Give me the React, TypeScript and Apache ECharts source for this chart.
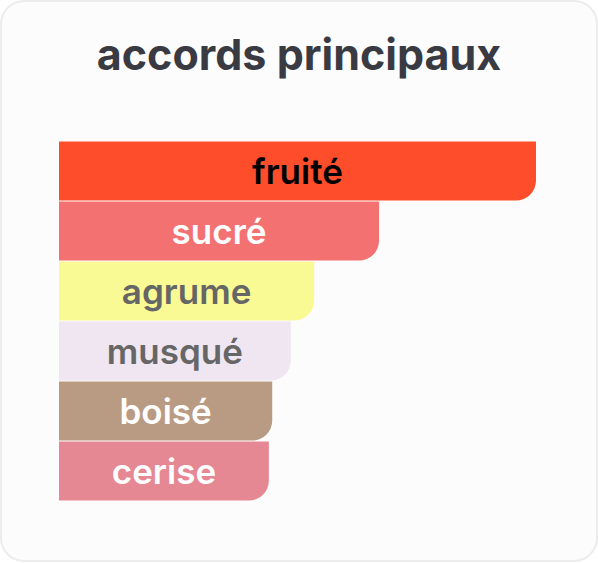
import React, { useEffect, useRef } from 'react'
import * as echarts from 'echarts'

const accords = ['fruité', 'sucré', 'agrume', 'musqué', 'boisé', 'cerise']
const intensities = [100, 67.1, 53.5, 48.6, 44.7, 44.0]
const barColors = ['#fd4d2b', '#f47172', '#fafa95', '#efe6f2', '#b89b82', '#e58893']
const labelColors = ['#000000', '#ffffff', '#666666', '#666666', '#ffffff', '#ffffff']

const App: React.FC = () => {
  const chartRef = useRef<HTMLDivElement>(null)

  useEffect(() => {
    document.body.style.margin = '0'
    if (!chartRef.current) return
    const chart = echarts.init(chartRef.current, undefined, { renderer: 'svg' })

    chart.setOption({
      animation: false,
      title: {
        text: 'accords principaux',
        left: 'center',
        top: 27,
        textStyle: {
          fontFamily: 'Inter',
          fontSize: 43,
          fontWeight: 700,
          color: '#3a3a42'
        }
      },
      grid: { left: 59, right: 62, top: 141, bottom: 62 },
      xAxis: { type: 'value', min: 0, max: 100, show: false },
      yAxis: {
        type: 'category',
        data: accords,
        inverse: true,
        show: false
      },
      series: [
        {
          type: 'bar',
          barCategoryGap: 0,
          barWidth: 59,
          data: intensities.map((v, i) => ({
            value: v,
            itemStyle: { color: barColors[i], borderRadius: [0, 0, 20, 0] },
            label: { color: labelColors[i] }
          })),
          label: {
            show: true,
            position: 'inside',
            formatter: (p: any) => p.name,
            fontFamily: 'Inter',
            fontSize: 35,
            fontWeight: 600
          }
        }
      ]
    })

    return () => chart.dispose()
  }, [])

  return (
    <div
      style={{
        width: 598,
        height: 563,
        background: '#ffffff',
        position: 'relative'
      }}
    >
      <div
        style={{
          position: 'absolute',
          left: 0,
          top: 0,
          width: 594,
          height: 558,
          border: '2px solid #ececec',
          borderRadius: 24,
          background: '#fcfcfc'
        }}
      />
      <div ref={chartRef} style={{ position: 'absolute', left: 0, top: 0, width: 598, height: 563 }} />
    </div>
  )
}

export default App
